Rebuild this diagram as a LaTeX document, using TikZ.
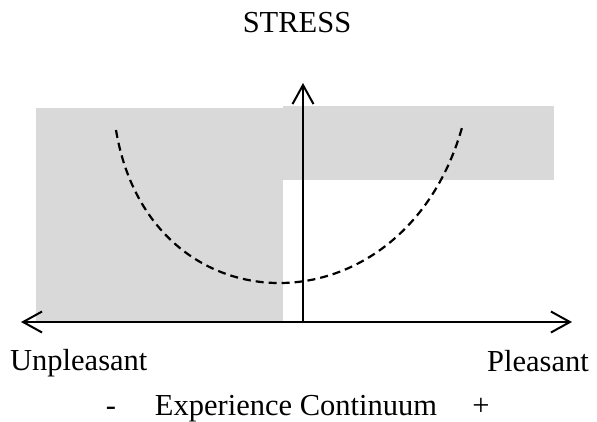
\documentclass[tikz,border=0pt]{standalone}
\usepackage{fontspec}
\setmainfont{Liberation Serif}
\usetikzlibrary{arrows.meta}
\definecolor{panelgray}{RGB}{217,217,217}
\tikzset{
  lbl/.style={inner sep=0pt, font=\fontsize{30.5}{33}\selectfont},
  panel/.style={fill=panelgray, draw=none},
  axis/.style={line width=2pt, {Straight Barb[length=19pt,width=21pt,line width=2pt]}-{Straight Barb[length=19pt,width=21pt,line width=2pt]}},
  vaxis/.style={line width=2pt, -{Straight Barb[length=19pt,width=21pt,line width=2pt]}},
  curve/.style={line width=2.2pt, dash pattern=on 8pt off 5pt}
}
\begin{document}
\begin{tikzpicture}[x=1pt,y=-1pt]
\useasboundingbox (0,0) rectangle (597,421);
\path[panel] (36,108) rectangle (283,322);
\path[panel] (283,106) rectangle (554,180);
\coordinate (xl) at (21,322);
\coordinate (xr) at (572,322);
\coordinate (yb) at (303,322);
\coordinate (yt) at (303,83);
\coordinate (c1) at (116,130);
\coordinate (c2) at (463,124);
\draw[curve] (c1) .. controls (150,335) and (406,335) .. (c2);
\draw[axis] (xl) -- (xr);
\draw[vaxis] (yb) -- (yt);
\node[lbl, anchor=base] (stress) at (297,32) {STRESS};
\node[lbl, anchor=base west] (unp) at (10,370) {Unpleasant};
\node[lbl, anchor=base east] (pls) at (589,371) {Pleasant};
\node[lbl, anchor=base] (exp) at (296,415) {Experience Continuum};
\node[lbl, anchor=base] (minus) at (111,415) {-};
\node[lbl, anchor=base] (plus) at (481,415) {+};
\end{tikzpicture}
\end{document}
